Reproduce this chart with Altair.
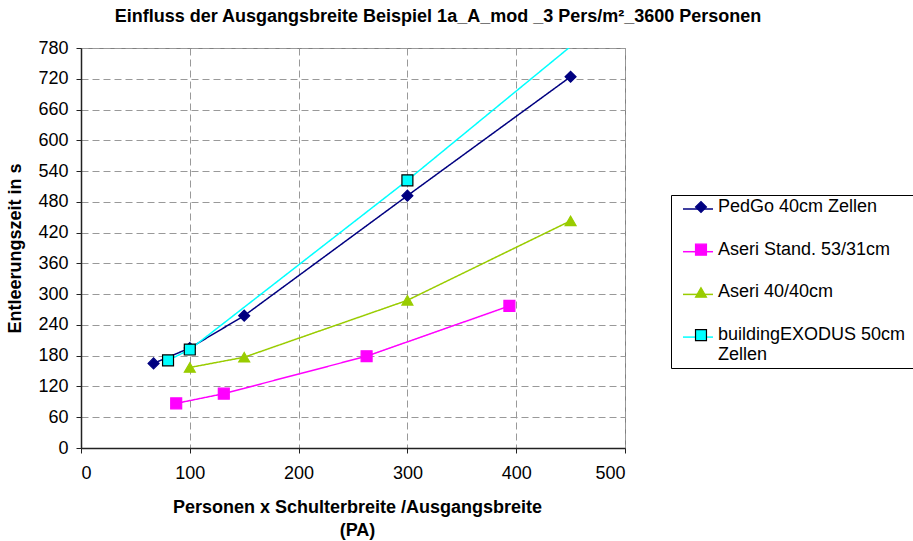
import altair as alt
import pandas as pd

# ---------------- data ----------------
series_names = [
    "PedGo 40cm Zellen",
    "Aseri Stand. 53/31cm",
    "Aseri 40/40cm",
    "buildingEXODUS 50cm Zellen",
]
pedgo_x = [66.7, 100, 150, 300, 450]
pedgo_y = [165, 195, 258, 492, 724]
aseri_std_x = [87.5, 131.25, 262.5, 393.75]
aseri_std_y = [87, 106, 179, 277]
aseri40_x = [100, 150, 300, 450]
aseri40_y = [157, 177, 288, 443]
exodus_x = [80, 100, 300, 450]
exodus_y = [171, 192, 522, 783]

x_ticks = [0, 100, 200, 300, 400, 500]
y_ticks = [0, 60, 120, 180, 240, 300, 360, 420, 480, 540, 600, 660, 720, 780]

line_colors = ["#000080", "#FF00FF", "#99CC00", "#00FFFF"]
marker_strokes = ["#000080", "#FF00FF", "#99CC00", "#000000"]
marker_shapes = ["diamond", "square", "triangle-up", "square"]

title_text = "Einfluss der Ausgangsbreite Beispiel 1a_A_mod _3 Pers/m²_3600 Personen"
x_title = ["Personen x Schulterbreite /Ausgangsbreite", "(PA)"]
y_title = "Entleerungszeit in s"

marker_keys = ["m: " + n for n in series_names]
label_keys = ["d: " + n for n in series_names]

rows = []
for name, mkey, lkey, xs, ys in zip(series_names, marker_keys, label_keys,
                                    [pedgo_x, aseri_std_x, aseri40_x, exodus_x],
                                    [pedgo_y, aseri_std_y, aseri40_y, exodus_y]):
    for xv, yv in zip(xs, ys):
        rows.append({"series": name, "marker": mkey, "lab": lkey, "x": xv, "y": yv})
df = pd.DataFrame(rows)

FONT = "Liberation Sans, Arial, sans-serif"

label_expr = ("datum.label == 'd: buildingEXODUS 50cm Zellen' ? "
              "['buildingEXODUS 50cm', 'Zellen'] : "
              "[replace(datum.label, 'd: ', ''), '']")

x_enc = alt.X(
    "x:Q",
    scale=alt.Scale(domain=[0, 500], nice=False, zero=False),
    axis=alt.Axis(
        values=x_ticks, title=x_title, titleX=276, titlePadding=16,
        titleLineHeight=23, labelPadding=11, format="d",
    ),
)
y_enc = alt.Y(
    "y:Q",
    scale=alt.Scale(domain=[0, 780], nice=False, zero=False),
    axis=alt.Axis(values=y_ticks, title=y_title, titlePadding=13,
                  labelPadding=8, format="d", labelOverlap=False),
)

# legend A: the texts only
legend_labels = alt.Legend(
    title=None, orient="none", legendX=590, legendY=147, direction="vertical",
    symbolType="circle", symbolSize=120, symbolStrokeWidth=1.2, symbolOpacity=0,
    labelFont=FONT, labelFontSize=18, labelColor="#000000", labelLimit=400,
    labelOffset=26, padding=3, rowPadding=4.7, labelExpr=label_expr,
)
# legend B: line symbols only
legend_lines = alt.Legend(
    title=None, orient="none", legendX=590, legendY=142, direction="vertical",
    symbolType="stroke", symbolSize=900, symbolStrokeWidth=1.5,
    labelFont=FONT, labelFontSize=18, labelOpacity=0, labelLimit=400,
    labelOffset=12, symbolOffset=8, padding=3, rowPadding=17.7,
    labelExpr="' '",
)
# legend C: marker symbols + frame
legend_points = alt.Legend(
    title=None, orient="none", legendX=590, legendY=147, direction="vertical",
    symbolSize=120, symbolStrokeWidth=1.2, symbolOffset=18,
    labelFont=FONT, labelFontSize=18, labelOpacity=0, labelLimit=400,
    labelOffset=225, padding=3, rowPadding=4.7,
    strokeColor="#000000", labelExpr="[' ', ' ']",
)

lines = alt.Chart(df).mark_line(strokeWidth=1.5, clip=True).encode(
    x=x_enc,
    y=y_enc,
    color=alt.Color("series:N",
                    scale=alt.Scale(domain=series_names, range=line_colors),
                    legend=legend_lines),
    strokeDash=alt.StrokeDash("lab:N",
                              scale=alt.Scale(domain=label_keys,
                                              range=[[1, 0], [1, 0], [1, 0], [1, 0]]),
                              legend=legend_labels),
)

points = alt.Chart(df).transform_filter("datum.y <= 780").mark_point(
    filled=True, opacity=1, size=120, strokeWidth=1.2
).encode(
    x=x_enc,
    y=y_enc,
    fill=alt.Fill("marker:N",
                  scale=alt.Scale(domain=marker_keys, range=line_colors),
                  legend=legend_points),
    stroke=alt.Stroke("marker:N",
                      scale=alt.Scale(domain=marker_keys, range=marker_strokes),
                      legend=legend_points),
    shape=alt.Shape("marker:N",
                    scale=alt.Scale(domain=marker_keys, range=marker_shapes),
                    legend=legend_points),
)

chart = alt.layer(lines, points).properties(
    width=544,
    height=400,
    padding={"left": 81, "top": 48, "right": 288, "bottom": 93},
    autosize=alt.AutoSizeParams(type="none"),
    title=alt.Title(title_text, font=FONT, fontSize=18, fontWeight="bold",
                    color="#000000", anchor="middle", dx=85, offset=13),
    background="#ffffff",
).configure_view(
    stroke="#808080", strokeWidth=1,
).configure_axis(
    labelFont=FONT, labelFontSize=18, labelColor="#000000",
    titleFont=FONT, titleFontSize=18, titleFontWeight="bold", titleColor="#000000",
    domainColor="#222222", domainWidth=1.5,
    tickColor="#222222", tickSize=5, tickWidth=1,
    grid=True, gridColor="#999999", gridDash=[7, 4], gridWidth=1,
)

chart.save("out.html", embed_options={"renderer": "svg", "actions": False})
